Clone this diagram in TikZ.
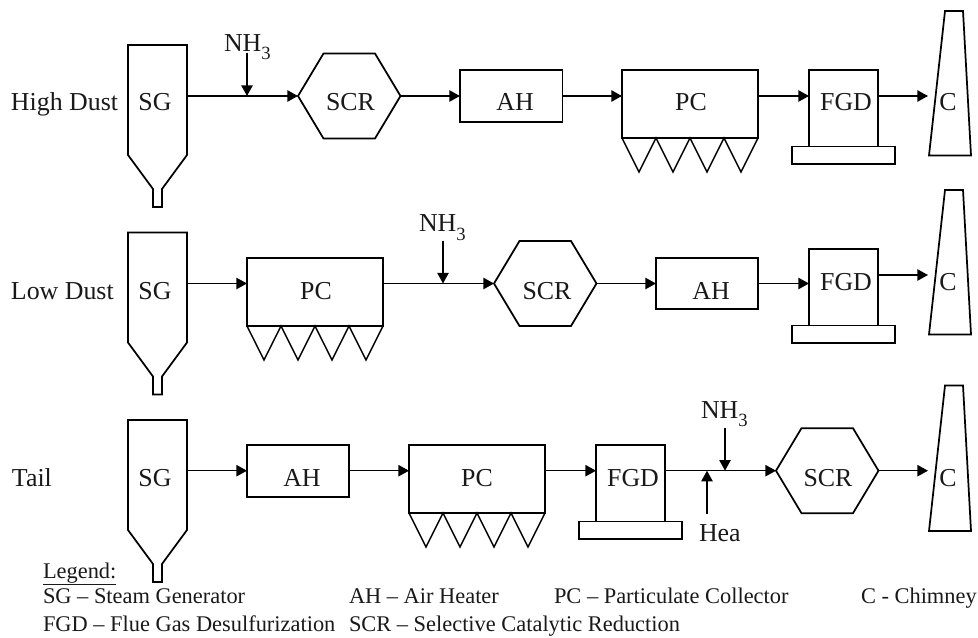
\documentclass[tikz,border=0pt]{standalone}
\usepackage{fontspec}
\setmainfont{Liberation Serif}
\usetikzlibrary{arrows.meta}
\tikzset{
  outline/.style={draw=black,line width=1.3pt,line join=miter},
  frame/.style={shape=rectangle,inner sep=0pt,outer sep=0pt},
  flow/.style={draw=black,line width=1.15pt,-{Triangle[length=8pt,width=8.5pt]},shorten >=0pt},
  lab/.style={inner sep=0pt,outer sep=0pt,anchor=base,font=\fontsize{19.4}{23}\selectfont,text=black!90},
  side/.style={lab,anchor=base west},
  legend/.style={inner sep=0pt,outer sep=0pt,anchor=base west,font=\fontsize{16.8}{20}\selectfont,text=black!90},
}
% name, x1, y1, x2, y2 : invisible frame that fixes the anchors of a shape
\newcommand{\framed}[6][]{\node[frame,#1,minimum width={((#4)-(#2))*0.75pt},minimum height={((#5)-(#3))*0.75pt}] (#6) at ({((#2)+(#4))/2},{((#3)+(#5))/2}) {};}
\newcommand{\boxunit}[5]{\framed[outline]{#2}{#3}{#4}{#5}{#1}}
\newcommand{\SGunit}[2]{%
  \framed{128}{45+#2}{187}{207+#2}{#1}
  \draw[outline] (128,45+#2) -- (187,45+#2) -- (187,155+#2) -- (162,189+#2) -- (162,207+#2) -- (153,207+#2) -- (153,189+#2) -- (128,155+#2) -- cycle;}
\newcommand{\Cunit}[3]{%
  \framed{929}{#2}{971}{#3}{#1}
  \draw[outline] (945,#2) -- (963,#2) -- (971,#3) -- (929,#3) -- cycle;}
\newcommand{\SCRunit}[3]{%
  \framed{#2}{#3-42.5}{#2+102.5}{#3+42.5}{#1}
  \draw[outline] (#1.west) -- ++(25.5,-42.5) -- ++(51.5,0) -- ++(25.5,42.5) -- ++(-25.5,42.5) -- ++(-51.5,0) -- cycle;}
\newcommand{\PCunit}[3]{%
  \boxunit{#1}{#2}{#3}{#2+136}{#3+68}
  \draw[outline,line width=1.15pt] (#1.south west) -- ++(17,34) -- ++(17,-34) -- ++(17,34) -- ++(17,-34) -- ++(17,34) -- ++(17,-34) -- ++(17,34) -- ++(17,-34);}
\newcommand{\FGDunit}[3]{%
  \boxunit{#1}{#2}{#3}{#2+69}{#3+76.5}
  \boxunit{#1b}{#2-17}{#3+76.5}{#2+86}{#3+94}}
\newcommand{\nhthree}{NH\raisebox{-6pt}{\fontsize{14}{14}\selectfont 3}}
\begin{document}
\begin{tikzpicture}[x=0.75pt,y=-0.75pt]
\useasboundingbox (0,0) rectangle (978,638);
\coordinate (f1) at (0,96);
\coordinate (f2) at (0,283.5);
\coordinate (f2c) at (0,275);
\coordinate (f3) at (0,470.7);
% --- row 1
\SGunit{sga}{0}
\SCRunit{scra}{298}{96}
\boxunit{aha}{460}{70}{562.5}{122}
\PCunit{pca}{622}{70}
\FGDunit{fgda}{809}{70}
\Cunit{ca}{11}{155.5}
\node[side] (hd) at (11,111) {High Dust};
\node[lab] (sgat) at (155,111) {SG};
\node[lab] (scrat) at (350.5,111) {SCR};
\node[lab] (ahat) at (515,111) {AH};
\node[lab] (pcat) at (691,111) {PC};
\node[lab] (fgdat) at (846,111) {FGD};
\node[lab] (cat) at (948,111) {C};
\node[side] (nha) at (224,52) {\nhthree};
\coordinate (ia) at (247,53);
\coordinate (ja) at (247,96);
\coordinate (cia) at (928,96);
\draw[flow] (sga.east |- f1) -- (scra.west);
\draw[flow] (ia) -- (ja);
\draw[flow] (scra.east) -- (aha.west);
\draw[flow] (aha.east) -- (pca.west |- f1);
\draw[flow] (pca.east |- f1) -- (fgda.west |- f1);
\draw[flow] (fgda.east |- f1) -- (cia);
% --- row 2
\SGunit{sgb}{187.5}
\PCunit{pcb}{247}{258}
\SCRunit{scrb}{494}{283.5}
\boxunit{ahb}{656}{258}{758}{309}
\FGDunit{fgdb}{809}{249}
\Cunit{cb}{190}{334.5}
\node[side] (ld) at (11,299) {Low Dust};
\node[lab] (sgbt) at (155,299) {SG};
\node[lab] (pcbt) at (316,299) {PC};
\node[lab] (scrbt) at (547,299) {SCR};
\node[lab] (ahbt) at (711,299) {AH};
\node[lab] (fgdbt) at (846,290) {FGD};
\node[lab] (cbt) at (948,290) {C};
\node[side] (nhb) at (419,232) {\nhthree};
\coordinate (ib) at (443,240.5);
\coordinate (jb) at (443,283.5);
\coordinate (cib) at (928,275);
\draw[flow] (sgb.east |- f2) -- (pcb.west |- f2);
\draw[flow] (pcb.east |- f2) -- (scrb.west);
\draw[flow] (ib) -- (jb);
\draw[flow] (scrb.east) -- (ahb.west |- f2);
\draw[flow] (ahb.east |- f2) -- (fgdb.west |- f2);
\draw[flow] (fgdb.east |- f2c) -- (cib);
% --- row 3
\SGunit{sgc}{375}
\boxunit{ahc}{247}{445}{349}{497}
\PCunit{pcc}{409}{445}
\FGDunit{fgdc}{596}{445}
\SCRunit{scrc}{776}{470.7}
\Cunit{cc}{385.5}{531}
\node[side] (tl) at (12,486) {Tail};
\node[lab] (sgct) at (155,486) {SG};
\node[lab] (ahct) at (302,486) {AH};
\node[lab] (pcct) at (477,486) {PC};
\node[lab] (fgdct) at (633,486) {FGD};
\node[lab] (scrct) at (828,486) {SCR};
\node[lab] (cct) at (948,486) {C};
\node[side] (nhc) at (701,418) {\nhthree};
\node[side] (hea) at (699,541) {Hea};
\coordinate (ic) at (725,428);
\coordinate (jc) at (725,470.7);
\coordinate (ih) at (707,514);
\coordinate (jh) at (707,470.7);
\coordinate (cic) at (928,470.7);
\draw[flow] (sgc.east |- f3) -- (ahc.west |- f3);
\draw[flow] (ahc.east |- f3) -- (pcc.west |- f3);
\draw[flow] (pcc.east |- f3) -- (fgdc.west |- f3);
\draw[flow] (fgdc.east |- f3) -- (scrc.west);
\draw[flow] (ic) -- (jc);
\draw[flow] (ih) -- (jh);
\draw[flow] (scrc.east) -- (cic);
% --- legend
\node[legend] (lg) at (43,578) {\underline{Legend:}};
\node[legend] (l1) at (43,603) {SG – Steam Generator};
\node[legend] (l2) at (349,603) {AH – Air Heater};
\node[legend] (l3) at (554,603) {PC – Particulate Collector};
\node[legend] (l4) at (861,603) {C - Chimney};
\node[legend] (l5) at (43,631) {FGD – Flue Gas Desulfurization};
\node[legend] (l6) at (349,631) {SCR – Selective Catalytic Reduction};
\end{tikzpicture}
\end{document}
